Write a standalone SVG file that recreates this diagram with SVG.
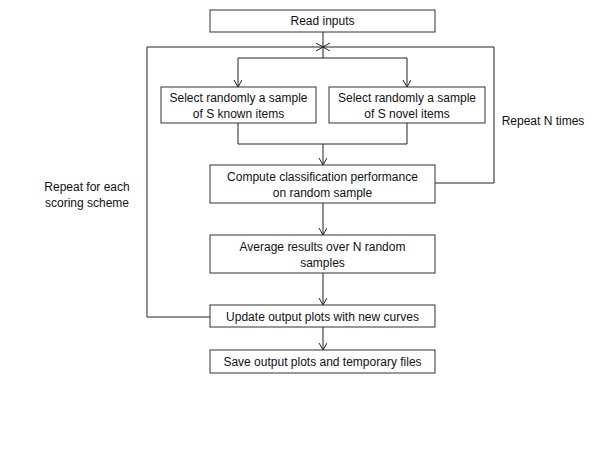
<svg xmlns="http://www.w3.org/2000/svg" width="600" height="450" viewBox="0 0 600 450">
<style>
.box{fill:#fff;stroke:#333;stroke-width:1}
.c{fill:none;stroke:#222;stroke-width:1}
text{font-family:"Liberation Sans",Arial,sans-serif;font-size:12px;fill:#111;text-anchor:middle}
</style>
<defs>
<marker id="a" markerWidth="10" markerHeight="10" refX="7" refY="4" orient="auto" markerUnits="userSpaceOnUse">
<path d="M0,0 L7,4 L0,8" fill="none" stroke="#222" stroke-width="1"/>
</marker>
</defs>
<rect width="600" height="450" fill="#fff"/>
<g id="connectors">
<path class="c" d="M323,32 V58"/>
<path class="c" d="M238,58 H407 V87" marker-end="url(#a)"/>
<path class="c" d="M238,58 V87" marker-end="url(#a)"/>
<path class="c" d="M238,123 V144 H407 V123"/>
<path class="c" d="M323,144 V165" marker-end="url(#a)"/>
<path class="c" d="M435,183 H494 V47 H323" marker-end="url(#a)"/>
<path class="c" d="M323,203 V235" marker-end="url(#a)"/>
<path class="c" d="M323,273 V305" marker-end="url(#a)"/>
<path class="c" d="M210,317 H147 V47 H323" marker-end="url(#a)"/>
<path class="c" d="M323,327 V350" marker-end="url(#a)"/>
</g>
<g id="read"><rect class="box" x="210" y="10" width="225" height="22"/><text x="322.5" y="25">Read inputs</text></g>
<g id="known"><rect class="box" x="161" y="87" width="155" height="36"/><text x="238.5" y="102">Select randomly a sample</text><text x="238.5" y="118">of S known items</text></g>
<g id="novel"><rect class="box" x="329" y="87" width="156" height="36"/><text x="407" y="102">Select randomly a sample</text><text x="407" y="118">of S novel items</text></g>
<g id="compute"><rect class="box" x="210" y="165" width="225" height="38"/><text x="322.5" y="181">Compute classification performance</text><text x="322.5" y="197">on random sample</text></g>
<g id="average"><rect class="box" x="210" y="235" width="225" height="38"/><text x="322.5" y="251">Average results over N random</text><text x="322.5" y="267">samples</text></g>
<g id="update"><rect class="box" x="210" y="305" width="225" height="22"/><text x="322.5" y="321">Update output plots with new curves</text></g>
<g id="save"><rect class="box" x="210" y="350" width="225" height="23"/><text x="322.5" y="366">Save output plots and temporary files</text></g>
<g id="labels">
<text x="543" y="125">Repeat N times</text>
<text x="87" y="191">Repeat for each</text>
<text x="87" y="207">scoring scheme</text>
</g>
</svg>
